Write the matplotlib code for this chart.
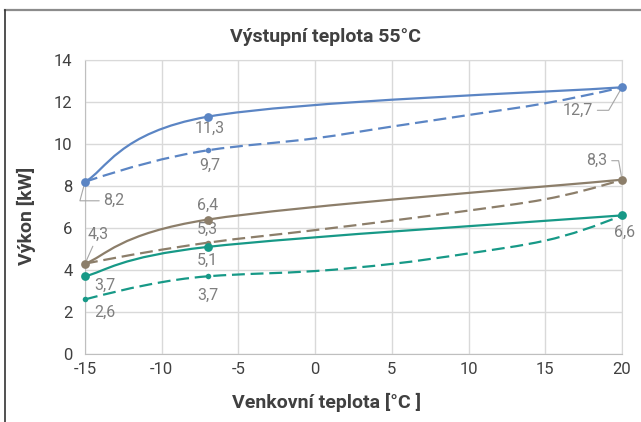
import numpy as np
import matplotlib
matplotlib.use('Agg')
import matplotlib.pyplot as plt
from matplotlib.path import Path
from matplotlib.patches import PathPatch
from matplotlib.lines import Line2D

plt.rcParams['font.family'] = ['Roboto', 'DejaVu Sans']
plt.rcParams['axes.unicode_minus'] = False

temps = [-15, -7, 20]
blue_solid = [8.2, 11.3, 12.7]
brown_solid = [4.3, 6.4, 8.3]
teal_solid = [3.7, 5.1, 6.6]

temps_dashed = [-15, -7, 0, 5, 10, 15, 20]
blue_dashed = [8.2, 9.7, 10.27, 10.83, 11.38, 11.94, 12.7]
brown_dashed = [4.3, 5.3, 5.9, 6.35, 6.83, 7.37, 8.3]
teal_dashed = [2.6, 3.7, 3.95, 4.29, 4.79, 5.40, 6.6]
dashed_marked = [0, 1, 6]

blue = '#5b85c4'
brown = '#8c7e6a'
teal = '#179987'
label_color = '#7f7f7f'
text_color = '#404040'


def smooth_path(xs, ys, k=1/6.):
    # excel-like smoothed line: cubic bezier, catmull-rom tangents
    pts = np.column_stack([xs, ys]).astype(float)
    n = len(pts)
    verts = [pts[0]]
    codes = [Path.MOVETO]
    for i in range(n - 1):
        p0 = pts[max(i - 1, 0)]
        p1 = pts[i]
        p2 = pts[i + 1]
        p3 = pts[min(i + 2, n - 1)]
        c1 = p1 + (p2 - p0) * k
        c2 = p2 - (p3 - p1) * k
        verts += [c1, c2, p2]
        codes += [Path.CURVE4] * 3
    return Path(verts, codes)


def pchip_path(xs, ys):
    # monotone hermite curve written as bezier segments
    x = np.asarray(xs, float)
    y = np.asarray(ys, float)
    h = np.diff(x)
    d = np.diff(y) / h
    n = len(x)
    m = np.zeros(n)
    for i in range(1, n - 1):
        if d[i - 1] * d[i] > 0:
            w1 = 2 * h[i] + h[i - 1]
            w2 = h[i] + 2 * h[i - 1]
            m[i] = (w1 + w2) / (w1 / d[i - 1] + w2 / d[i])
    m[0] = ((2 * h[0] + h[1]) * d[0] - h[0] * d[1]) / (h[0] + h[1])
    m[-1] = ((2 * h[-1] + h[-2]) * d[-1] - h[-1] * d[-2]) / (h[-1] + h[-2])
    verts = [(x[0], y[0])]
    codes = [Path.MOVETO]
    for i in range(n - 1):
        verts += [(x[i] + h[i] / 3, y[i] + m[i] * h[i] / 3),
                  (x[i + 1] - h[i] / 3, y[i + 1] - m[i + 1] * h[i] / 3),
                  (x[i + 1], y[i + 1])]
        codes += [Path.CURVE4] * 3
    return Path(verts, codes)


fig = plt.figure(figsize=(6.41, 4.22), dpi=100)
ax = fig.add_axes([85 / 641, 1 - 354 / 422, (622 - 85) / 641, (354 - 60) / 422])

series = [
    (temps_dashed, teal_dashed, teal, True),
    (temps_dashed, brown_dashed, brown, True),
    (temps_dashed, blue_dashed, blue, True),
    (temps, teal_solid, teal, False),
    (temps, brown_solid, brown, False),
    (temps, blue_solid, blue, False),
]
for xs, ys, col, dashed in series:
    if dashed:
        path = pchip_path(xs, ys)
        ls = (0, (5.8, 2.6))
    else:
        path = smooth_path(xs, ys)
        ls = '-'
    patch = PathPatch(path, fill=False, edgecolor=col,
                      linewidth=1.6, linestyle=ls, capstyle='butt', zorder=3)
    ax.add_patch(patch)
    ax.plot(xs, ys, linestyle='none', marker='o', color=col,
            markevery=dashed_marked if dashed else None,
            markersize=4 if dashed else 6.3, markeredgewidth=0, zorder=4,
            clip_on=False)

ax.set_xlim(-15, 20)
ax.set_ylim(0, 14)
ax.set_xticks(np.arange(-15, 21, 5))
ax.set_yticks(np.arange(0, 15, 2))
ax.grid(True, color='#d9d9d9', linewidth=1)
ax.set_axisbelow(True)
for side in ['top', 'right']:
    ax.spines[side].set_color('#d9d9d9')
for side in ['left', 'bottom']:
    ax.spines[side].set_color('#bfbfbf')
ax.tick_params(length=0, labelsize=12, labelcolor=text_color)
ax.tick_params(axis='y', pad=9)
ax.tick_params(axis='x', pad=6)


def fmt(v):
    return ('%.1f' % v).replace('.', ',')


lab = dict(fontsize=11.5, color=label_color, ha='center', va='center',
           textcoords='offset pixels')
lead = dict(arrowstyle='-', color='#a6a6a6', lw=0.8, shrinkA=1, shrinkB=3)

# data labels
ax.annotate(fmt(blue_solid[0]), (temps[0], blue_solid[0]), xytext=(29, -19),
            arrowprops=dict(lead, connectionstyle='angle,angleA=0,angleB=75,rad=0'), **lab)
ax.annotate(fmt(blue_solid[1]), (temps[1], blue_solid[1]), xytext=(2, -12), **lab)
ax.annotate(fmt(blue_solid[2]), (temps[2], blue_solid[2]), xytext=(-44, -23),
            arrowprops=dict(lead, connectionstyle='angle,angleA=0,angleB=60,rad=0'), **lab)
ax.annotate(fmt(blue_dashed[1]), (temps[1], blue_dashed[1]), xytext=(2, -15), **lab)
ax.annotate(fmt(brown_solid[0]), (temps[0], brown_solid[0]), xytext=(13, 29),
            arrowprops=dict(lead), **lab)
ax.annotate(fmt(brown_solid[1]), (temps[1], brown_solid[1]), xytext=(0, 14), **lab)
ax.annotate(fmt(brown_solid[2]), (temps[2], brown_solid[2]), xytext=(-25, 19),
            arrowprops=dict(lead, connectionstyle='angle,angleA=0,angleB=-80,rad=0'), **lab)
ax.annotate(fmt(brown_dashed[1]), (temps[1], brown_dashed[1]), xytext=(0, 13), **lab)
ax.annotate(fmt(teal_solid[0]), (temps[0], teal_solid[0]), xytext=(20, -9), **lab)
ax.annotate(fmt(teal_solid[1]), (temps[1], teal_solid[1]), xytext=(0, -13), **lab)
ax.annotate(fmt(teal_solid[2]), (temps[2], teal_solid[2]), xytext=(3, -17), **lab)
ax.annotate(fmt(teal_dashed[0]), (temps[0], teal_dashed[0]), xytext=(20, -13), **lab)
ax.annotate(fmt(teal_dashed[1]), (temps[1], teal_dashed[1]), xytext=(0, -19), **lab)

# titles
fig.text(326 / 641, 1 - 37 / 422, 'Výstupní teplota 55°C', ha='center', va='center',
         fontsize=14, fontweight='bold', color=text_color)
fig.text(326 / 641, 1 - 402 / 422, 'Venkovní teplota [°C ]', ha='center', va='center',
         fontsize=14, fontweight='bold', color=text_color)
fig.text(26 / 641, 1 - 216 / 422, 'Výkon [kW]', ha='center', va='center', rotation=90,
         fontsize=14, fontweight='bold', color=text_color)

# chart border (cropped at right and bottom)
fig.add_artist(Line2D([5 / 641, 1], [1 - 10 / 422] * 2, transform=fig.transFigure,
                      color='#8c8c8c', lw=1.6))
fig.add_artist(Line2D([5 / 641] * 2, [0, 1 - 10 / 422], transform=fig.transFigure,
                      color='#333333', lw=1.2))

fig.savefig('out.png', dpi=100)
